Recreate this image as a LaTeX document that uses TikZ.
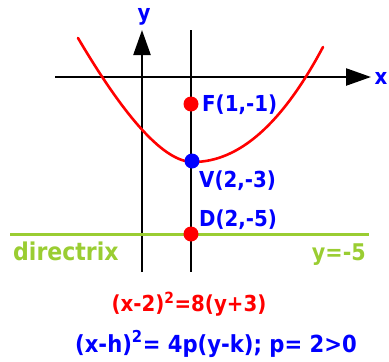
\documentclass[tikz,border=0pt]{standalone}
\usepackage{fontspec}
\setmainfont{DejaVu Sans Condensed}
\usetikzlibrary{arrows.meta, positioning}
\definecolor{curveRed}{HTML}{FF0000}
\definecolor{ptBlue}{HTML}{0000FF}
\definecolor{dirGreen}{HTML}{9ACD32}

\tikzset{
  axisline/.style={line width=2.4pt, -{Triangle[length=25pt, width=17pt]}},
  dot/.style={circle, inner sep=0pt, minimum size=15pt},
  lbl/.style={inner sep=0pt, font=\fontsize{22}{26}\selectfont\bfseries},
}

\begin{document}
\begin{tikzpicture}[x=1pt, y=-1pt]
  \useasboundingbox (0,0) rectangle (389,362);

  % axes
  \coordinate (xstart) at (55,77);
  \coordinate (xend) at (371,77);
  \coordinate (ystart) at (142,272);
  \coordinate (yend) at (142,30);
  \draw[axisline] (xstart) -- (xend);
  \draw[axisline] (ystart) -- (yend);
  \node[lbl, text=ptBlue, anchor=base] (ylab) at (144,20) {y};
  \node[lbl, text=ptBlue, anchor=base] (xlab) at (381,84) {x};

  % axis of symmetry x = 2
  \coordinate (atop) at (191,30);
  \coordinate (abot) at (191,272);
  \draw[line width=2.4pt] (atop) -- (abot);

  % directrix
  \coordinate (dleft) at (10,234);
  \coordinate (dright) at (369,234);
  \draw[dirGreen, line width=3pt] (dleft) -- (dright);
  \node[lbl, text=dirGreen, anchor=base west, font=\fontsize{24.5}{28}\selectfont\bfseries]
    (dirlab) at (13,260) {directrix};
  \node[lbl, text=dirGreen, anchor=base east, font=\fontsize{23}{27}\selectfont\bfseries]
    (ylinelab) at (366,260) {y=-5};

  % parabola
  \coordinate (pleft) at (78,38);
  \coordinate (pvert) at (193,162);
  \coordinate (pright) at (323,47);
  \draw[curveRed, line width=2.6pt, line cap=round]
    (pleft) .. controls (126.7,120.7) and (165,162) .. (pvert)
            .. controls (239,162) and (282.3,123.7) .. (pright);

  % points
  \node[dot, fill=curveRed] (F) at (191,104) {};
  \node[dot, fill=ptBlue] (V) at (192,161) {};
  \node[dot, fill=curveRed] (D) at (191,234) {};
  \node[lbl, text=ptBlue, anchor=base west] (Flab) at (202,111) {F(1,-1)};
  \node[lbl, text=ptBlue, anchor=base west] (Vlab) at (199,187) {V(2,-3)};
  \node[lbl, text=ptBlue, anchor=base west] (Dlab) at (199,226) {D(2,-5)};

  % equations
  \node[lbl, text=curveRed, anchor=base] (eqone) at (189,311) {(x-2)\textsuperscript{2}=8(y+3)};
  \node[lbl, text=ptBlue, anchor=base, font=\fontsize{23.5}{27}\selectfont\bfseries]
    (eqtwo) at (216,352) {(x-h)\textsuperscript{2}= 4p(y-k); p= 2>0};
\end{tikzpicture}
\end{document}
